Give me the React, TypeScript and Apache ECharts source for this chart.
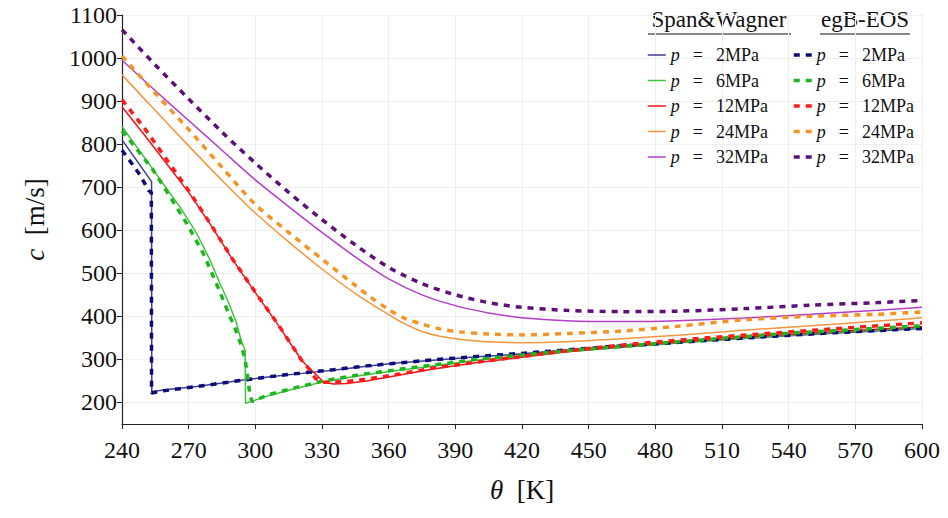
import React, { useEffect, useRef } from "react";
import * as echarts from "echarts";

// Pressures shown in the legend
const pressures = ["2MPa", "6MPa", "12MPa", "24MPa", "32MPa"];

// Colours: Span&Wagner (solid) and egB-EOS (dashed)
const swColors = ["#3c3c98", "#3fc43f", "#ee1515", "#f4963e", "#b43ec8"];
const egColors = ["#0b0b7a", "#1fb51f", "#ff1a1a", "#f39424", "#5e1078"];

// Span&Wagner, speed of sound c [m/s] vs temperature θ [K]
const sw2 = [[240, 810], [244, 781], [248, 752], [253.3, 713], [253.4, 225], [258.6, 229], [266, 233], [273.6, 237], [285, 245], [294.6, 252], [306.6, 260], [320, 267], [335, 275], [350, 284], [365, 292], [380, 298], [400, 306], [420, 313], [440, 322], [460, 329], [480, 336], [500, 342], [530, 352], [560, 361], [600, 372]];
const sw6 = [[240, 841], [245, 805], [250, 770], [255, 734], [260, 697], [266, 655], [273.6, 593], [279.6, 531], [284.4, 473], [287.8, 434], [291.3, 388], [293.8, 341], [295.4, 322], [295.6, 198], [298, 202], [306.6, 217], [318.6, 233], [330.6, 248], [348.6, 264], [371, 279], [401, 299], [440, 318], [490, 338], [540, 356], [600, 374]];
const sw12 = [[240, 887], [250, 822], [260, 755], [270, 688], [280, 612], [290, 530], [300, 455], [310, 382], [321, 297], [330.6, 248], [335, 243], [341, 244], [350, 250], [365, 264], [380, 278], [400, 293], [420, 305], [440, 318], [470, 332], [500, 344], [530, 355], [560, 364], [600, 376]];
const sw24 = [[240, 961], [255, 878], [270, 796], [285, 716], [300, 640], [315, 573], [330, 510], [345, 453], [360, 404], [367, 383], [375, 365], [383, 354], [392, 347], [405, 341], [420, 339], [440, 341], [465, 348], [490, 356], [520, 368], [550, 378], [580, 389], [600, 397]];
const sw32 = [[240, 995], [255, 924], [270, 855], [285, 786], [300, 717], [315, 655], [330, 595], [345, 538], [360, 487], [375, 450], [390, 425], [405, 408], [420, 397], [440, 390], [465, 388], [490, 390], [520, 396], [550, 405], [580, 414], [600, 421]];

// egB-EOS
const eg2 = [[240, 786], [244, 758], [248, 729], [252, 692], [253.2, 688], [253.3, 222], [258.6, 227], [266, 232], [273.6, 237], [285, 245], [294.6, 252], [306.6, 260], [320, 268], [335, 276], [350, 285], [365, 292], [380, 299], [400, 307], [420, 314], [440, 322], [460, 330], [480, 336], [500, 343], [530, 353], [560, 362], [600, 372]];
const eg6 = [[240, 831], [247, 786], [254, 740], [261.6, 678], [269.1, 616], [276.6, 546], [283.4, 465], [288.6, 399], [290.9, 372], [293.5, 335], [295.4, 300], [296.5, 262], [297.5, 220], [298.5, 202], [306.6, 219], [318.6, 235], [330.6, 250], [348.6, 266], [371, 281], [401, 301], [440, 320], [490, 341], [540, 361], [600, 378]];
const eg12 = [[240, 903], [250, 838], [260, 765], [270, 692], [280, 613], [290, 531], [300, 456], [310, 383], [321, 297], [324.6, 275], [327, 256], [331, 247], [340, 248], [350, 254], [365, 266], [380, 280], [400, 294], [420, 307], [440, 320], [470, 336], [500, 349], [530, 360], [560, 371], [600, 385]];
const eg24 = [[240, 1005], [255, 918], [270, 834], [285, 746], [300, 660], [315, 595], [330, 533], [345, 472], [352, 444], [360, 416], [367, 396], [375, 382], [383, 371], [392, 364], [405, 359], [420, 357], [440, 360], [465, 366], [490, 377], [520, 392], [550, 400], [580, 405], [600, 410]];
const eg32 = [[240, 1066], [255, 984], [270, 905], [285, 828], [300, 756], [315, 688], [330, 625], [345, 566], [360, 514], [375, 476], [390, 450], [405, 432], [420, 421], [440, 414], [465, 411], [490, 412], [520, 418], [550, 426], [580, 432], [600, 437]];

const swData = [sw2, sw6, sw12, sw24, sw32];
const egData = [eg2, eg6, eg12, eg24, eg32];

const serif = "'Liberation Serif', 'DejaVu Serif', serif";

export default function App() {
  const ref = useRef<HTMLDivElement>(null);

  useEffect(() => {
    const chart = echarts.init(ref.current as HTMLDivElement, null, { renderer: "svg" });

    const series: any[] = [];
    pressures.forEach((p, i) => {
      series.push({
        name: "SW " + p,
        type: "line",
        data: swData[i],
        symbol: "none",
        smooth: i >= 3 ? 0.3 : false,
        lineStyle: { color: swColors[i], width: 1.5, type: "solid" },
        itemStyle: { color: swColors[i] },
        z: 2,
      });
    });
    pressures.forEach((p, i) => {
      series.push({
        name: "egB " + p,
        type: "line",
        data: egData[i],
        symbol: "none",
        smooth: i >= 3 ? 0.3 : false,
        lineStyle: { color: egColors[i], width: 3.5, type: [6, 6] },
        itemStyle: { color: egColors[i] },
        z: 3,
      });
    });

    const legendText = {
      fontFamily: serif,
      fontSize: 18,
      color: "#111",
      lineHeight: 20,
      rich: {
        i: { fontFamily: serif, fontSize: 18, fontStyle: "italic", color: "#111", lineHeight: 20 },
        e: { fontFamily: serif, fontSize: 18, color: "#111", lineHeight: 20, padding: [0, 13, 0, 13] },
      },
    };
    const fmt = (name: string) => "{i|p}{e|=}" + name.split(" ")[1];
    const legendBase = {
      orient: "vertical",
      top: 45,
      padding: 0,
      itemGap: 5.5,
      itemWidth: 18,
      itemHeight: 12,
      formatter: fmt,
      textStyle: legendText,
      itemStyle: { opacity: 0 },
      lineStyle: { width: "inherit", type: "inherit", opacity: 1 },
      selectedMode: false,
    };

    const headerStyle = {
      fontFamily: serif,
      fontSize: 23,
      fill: "#111",
      align: "center",
      verticalAlign: "middle",
    };

    chart.setOption({
      animation: false,
      backgroundColor: "#ffffff",
      grid: { left: 122, right: 26, top: 15, bottom: 94, containLabel: false },
      xAxis: {
        type: "value",
        min: 240,
        max: 600,
        interval: 30,
        name: "{i|θ}  [K]",
        nameLocation: "middle",
        nameGap: 52,
        nameTextStyle: {
          fontFamily: serif,
          fontSize: 27,
          color: "#111",
          rich: { i: { fontFamily: serif, fontSize: 27, fontStyle: "italic", color: "#111" } },
        },
        axisLine: { show: true, lineStyle: { color: "#222", width: 1.2 } },
        axisTick: { show: true, length: 5, lineStyle: { color: "#222" } },
        axisLabel: { fontFamily: serif, fontSize: 24, color: "#111", margin: 14, formatter: (v: number) => String(v) },
        splitLine: { show: true, lineStyle: { color: "#eeeeee", width: 1 } },
      },
      yAxis: {
        type: "value",
        min: 150,
        max: 1100,
        splitNumber: 10,
        name: "{i|c}  [m/s]",
        nameLocation: "middle",
        nameGap: 74,
        nameTextStyle: {
          fontFamily: serif,
          fontSize: 27,
          color: "#111",
          rich: { i: { fontFamily: serif, fontSize: 27, fontStyle: "italic", color: "#111" } },
        },
        axisLine: { show: true, lineStyle: { color: "#222", width: 1.2 } },
        axisTick: { show: true, length: 5, lineStyle: { color: "#222" } },
        axisLabel: { fontFamily: serif, fontSize: 24, color: "#111", margin: 5, showMinLabel: false, formatter: (v: number) => String(v) },
        splitLine: { show: true, lineStyle: { color: "#eeeeee", width: 1 } },
      },
      legend: [
        { ...legendBase, left: 647, data: pressures.map((p) => "SW " + p) },
        { ...legendBase, left: 792, data: pressures.map((p) => "egB " + p) },
      ],
      graphic: [
        { type: "text", x: 719, y: 19, style: { ...headerStyle, text: "Span&Wagner" } },
        { type: "text", x: 865, y: 19, style: { ...headerStyle, text: "egB-EOS" } },
        { type: "line", shape: { x1: 648, y1: 34, x2: 791, y2: 34 }, style: { stroke: "#111", lineWidth: 1 } },
        { type: "line", shape: { x1: 820, y1: 34, x2: 910, y2: 34 }, style: { stroke: "#111", lineWidth: 1 } },
      ],
      series,
    });

    return () => chart.dispose();
  }, []);

  return <div ref={ref} style={{ position: "absolute", left: 0, top: 0, width: 948, height: 518 }} />;
}
